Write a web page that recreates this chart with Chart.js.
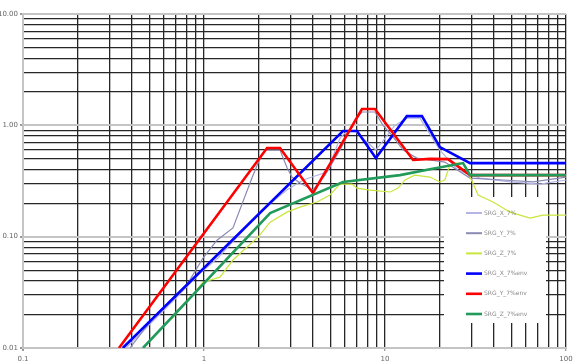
<!DOCTYPE html>
<html>
<head>
<meta charset="utf-8">
<script src="https://cdn.jsdelivr.net/npm/chart.js@4.4.1/dist/chart.umd.min.js"></script>
<style>
html,body{margin:0;padding:0;background:#fff;}
#wrap{width:582px;height:364px;position:relative;}
</style>
</head>
<body>
<div id="wrap"><canvas id="c" width="582" height="364"></canvas></div>
<script>
// ---- data ----
const seriesNames = ["SRG_X_7%", "SRG_Y_7%", "SRG_Z_7%", "SRG_X_7%env", "SRG_Y_7%env", "SRG_Z_7%env"];
const seriesColors = ["#b4b4e6", "#8a8ab4", "#c8e63c", "#0000ff", "#ff0000", "#229a5a"];

const sXx = [0.371, 0.71, 0.95, 1.19, 2.09, 2.87, 3.53, 4.78, 5.64, 6.17, 6.82, 8.9, 11.35, 13.2, 15.6, 20.1, 25.3, 33.5, 49.1, 71.8, 100];
const sXy = [0.01, 0.0286, 0.047, 0.064, 0.173, 0.262, 0.323, 0.38, 0.769, 0.889, 0.889, 0.60, 1.0, 1.16, 1.16, 0.60, 0.396, 0.336, 0.31, 0.297, 0.323];

const sYx = [0.39, 0.523, 0.816, 0.987, 1.18, 1.445, 1.84, 1.99, 2.17, 2.63, 2.87, 3.06, 3.39, 4.0, 4.66, 5.64, 6.82, 7.46, 8.8, 9.75, 10.9, 12.6, 15.0, 17.7, 21.4, 29.5, 44.9, 65.8, 100];
const sYy = [0.01, 0.0186, 0.0383, 0.0643, 0.093, 0.12, 0.336, 0.458, 0.60, 0.60, 0.421, 0.343, 0.303, 0.262, 0.357, 0.60, 1.116, 1.317, 1.317, 1.0, 0.818, 0.60, 0.508, 0.488, 0.468, 0.336, 0.323, 0.31, 0.343];

const sZx = [0.665, 0.838, 0.987, 1.225, 1.445, 1.73, 1.99, 2.32, 2.87, 3.39, 4.21, 4.96, 5.64, 6.57, 7.0, 8.26, 10.7, 11.8, 12.9, 14.6, 17.7, 20.1, 21.4, 22.6, 24.4, 27.0, 29.5, 32.7, 39.5, 49.1, 63.2, 74.6, 100];
const sZy = [0.0185, 0.028, 0.039, 0.0433, 0.0617, 0.0807, 0.099, 0.135, 0.166, 0.184, 0.205, 0.237, 0.297, 0.297, 0.273, 0.262, 0.252, 0.273, 0.323, 0.357, 0.343, 0.31, 0.323, 0.422, 0.458, 0.458, 0.343, 0.237, 0.205, 0.166, 0.147, 0.156, 0.156];

const envXx = [0.356, 5.86, 7.0, 8.9, 13.2, 16.0, 20.1, 29.5, 100];
const envXy = [0.01, 0.889, 0.889, 0.508, 1.21, 1.21, 0.638, 0.458, 0.458];

const envYx = [0.339, 2.23, 2.63, 4.0, 7.46, 8.8, 14.3, 17.7, 22.3, 29.5, 100];
const envYy = [0.01, 0.625, 0.625, 0.246, 1.40, 1.40, 0.488, 0.50, 0.497, 0.357, 0.357];

const envZx = [0.46, 2.32, 5.86, 12.1, 17.7, 27.0, 29.5, 100];
const envZy = [0.01, 0.163, 0.31, 0.357, 0.404, 0.458, 0.357, 0.357];

const xTickValues = [0.1,0.2,0.3,0.4,0.5,0.6,0.7,0.8,0.9,1,2,3,4,5,6,7,8,9,10,20,30,40,50,60,70,80,90,100];
const yTickValues = [0.01,0.02,0.03,0.04,0.05,0.06,0.07,0.08,0.09,0.1,0.2,0.3,0.4,0.5,0.6,0.7,0.8,0.9,1,2,3,4,5,6,7,8,9,10];
const xTickLabels = {"0.1":"0.1","1":"1","10":"10","100":"100"};
const yTickLabels = {"0.01":"0.01","0.1":"0.10","1":"1.00","10":"10.00"};

// ---- build ----
const zip = (xs, ys) => xs.map((x, i) => ({x: x, y: ys[i]}));
const seriesData = [zip(sXx, sXy), zip(sYx, sYy), zip(sZx, sZy), zip(envXx, envXy), zip(envYx, envYy), zip(envZx, envZy)];
const widths = [1.2, 1.2, 1.2, 2.6, 2.6, 2.6];

const isDecade = v => Math.abs(Math.log10(v) - Math.round(Math.log10(v))) < 1e-6;

const legendBox = {left: 444, top: 197, right: 546, bottom: 323, x0: 466, x1: 482, firstY: 213, step: 20.2};

const legendPlugin = {
  id: 'boxLegend',
  beforeDatasetsDraw(chart) {
    const ctx = chart.ctx;
    ctx.save();
    ctx.fillStyle = '#ffffff';
    ctx.fillRect(legendBox.left, legendBox.top, legendBox.right - legendBox.left, legendBox.bottom - legendBox.top);
    ctx.restore();
  },
  afterDatasetsDraw(chart) {
    const ctx = chart.ctx;
    ctx.save();
    ctx.font = '6px "DejaVu Sans"';
    ctx.textBaseline = 'middle';
    ctx.textAlign = 'left';
    seriesNames.forEach((name, i) => {
      const y = legendBox.firstY + i * legendBox.step;
      ctx.strokeStyle = seriesColors[i];
      ctx.lineWidth = i < 3 ? 2 : 2.6;
      ctx.beginPath();
      ctx.moveTo(legendBox.x0, y);
      ctx.lineTo(legendBox.x1, y);
      ctx.stroke();
      ctx.fillStyle = '#8a8a8a';
      ctx.fillText(name, legendBox.x1 + 2, y);
    });
    ctx.restore();
  }
};

Chart.defaults.font.family = '"DejaVu Sans", sans-serif';
Chart.defaults.font.size = 7;
Chart.defaults.color = '#666666';

new Chart(document.getElementById('c'), {
  type: 'line',
  data: {
    datasets: seriesData.map((d, i) => ({
      label: seriesNames[i],
      data: d,
      borderColor: seriesColors[i],
      backgroundColor: seriesColors[i],
      borderWidth: widths[i],
      pointRadius: 0,
      tension: 0,
      fill: false,
      order: 6 - i
    }))
  },
  options: {
    responsive: false,
    animation: false,
    parsing: true,
    layout: {padding: {top: 14, right: 16, left: 0, bottom: 0}},
    plugins: {legend: {display: false}, tooltip: {enabled: false}},
    scales: {
      x: {
        type: 'logarithmic',
        min: 0.1, max: 100,
        afterBuildTicks: s => { s.ticks = xTickValues.map(v => ({value: v})); },
        afterFit: s => { s.height = 16; },
        border: {color: '#c4c4c4', width: 2},
        grid: {
          color: c => (c.tick && Math.abs(c.tick.value - 0.1) < 1e-9) ? '#c4c4c4' : '#262626',
          lineWidth: c => (c.tick && Math.abs(c.tick.value - 0.1) < 1e-9) ? 2 : 1.3,
          drawTicks: true,
          tickLength: 3,
          tickColor: c => (c.tick && isDecade(c.tick.value)) ? '#999999' : 'rgba(0,0,0,0)'
        },
        ticks: {
          autoSkip: false, maxRotation: 0, minRotation: 0, padding: 4,
          color: '#666666',
          font: {size: 7},
          callback: v => xTickLabels[String(Number(v.toPrecision(6)))] || ''
        }
      },
      y: {
        type: 'logarithmic',
        min: 0.01, max: 10,
        afterBuildTicks: s => { s.ticks = yTickValues.map(v => ({value: v})); },
        afterFit: s => { s.width = 23; },
        border: {color: '#c4c4c4', width: 2},
        grid: {
          color: c => (c.tick && isDecade(c.tick.value)) ? '#c4c4c4' : '#262626',
          lineWidth: c => (c.tick && isDecade(c.tick.value)) ? 2 : 1.3,
          drawTicks: true,
          tickLength: 3,
          tickColor: c => (c.tick && isDecade(c.tick.value)) ? '#999999' : 'rgba(0,0,0,0)'
        },
        ticks: {
          autoSkip: false, padding: 2,
          color: '#666666',
          font: {size: 7},
          callback: v => yTickLabels[String(Number(v.toPrecision(6)))] || ''
        }
      }
    }
  },
  plugins: [legendPlugin]
});
</script>
</body>
</html>
